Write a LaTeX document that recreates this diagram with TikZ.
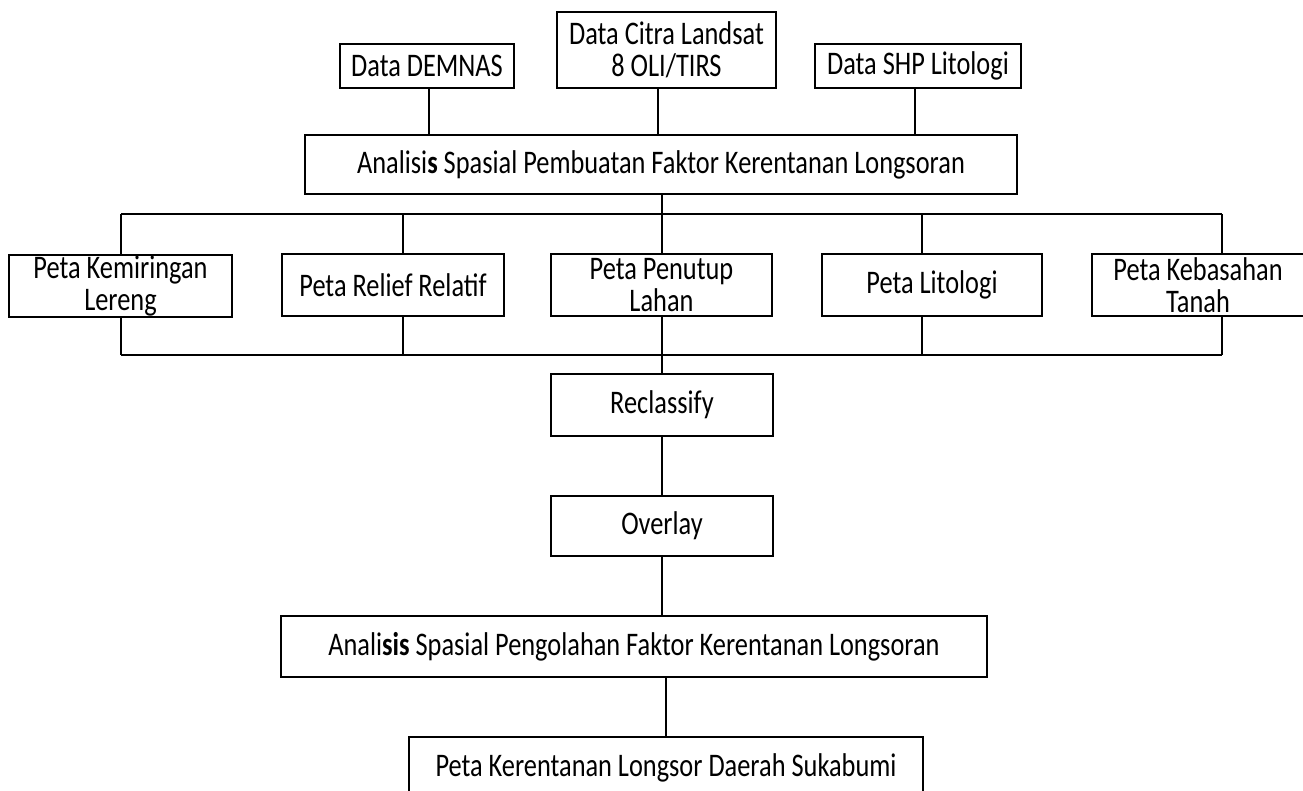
\documentclass[tikz,border=0pt]{standalone}
\usepackage{fontspec}
\setmainfont{Carlito}
\usepackage{graphicx}
\usepackage{tikz}
\usetikzlibrary{positioning,calc}

\newcommand{\tinggi}[1]{\scalebox{1}[1.25]{#1}}

\tikzset{
  kotak/.style={draw,line width=1.1pt,inner sep=0pt,align=center,
    font=\fontsize{15}{18}\selectfont},
  garis/.style={line width=1.1pt}
}

\begin{document}
\begin{tikzpicture}[x=0.02cm, y=-0.02cm]
\useasboundingbox (0,0) rectangle (1303,791);

\node[kotak,minimum width=3.48cm,minimum height=0.88cm] (demnas) at (427,66) {\tinggi{Data DEMNAS}};
\node[kotak,minimum width=4.38cm,minimum height=1.52cm] (citra) at (666.5,50) {\tinggi{Data Citra Landsat}\\\tinggi{8 OLI/TIRS}};
\node[kotak,minimum width=4.12cm,minimum height=0.88cm] (shp) at (918,66) {\tinggi{Data SHP Litologi}};
\node[kotak,minimum width=14.24cm,minimum height=1.18cm] (buat) at (661,164.5)
  {\tinggi{Analisi\textbf{s} Spasial Pembuatan Faktor Kerentanan Longsoran}};

\node[kotak,minimum width=4.46cm,minimum height=1.24cm] (lereng) at (120.5,286) {\tinggi{Peta Kemiringan}\\\tinggi{Lereng}};
\node[kotak,minimum width=4.44cm,minimum height=1.24cm] (relief) at (393,285) {\tinggi{Peta Relief Relatif}};
\node[kotak,minimum width=4.42cm,minimum height=1.24cm] (lahan) at (661.5,285) {\tinggi{Peta Penutup}\\\tinggi{Lahan}};
\node[kotak,minimum width=4.40cm,minimum height=1.24cm] (lito) at (932,285) {\tinggi{Peta Litologi}};
\node[kotak,minimum width=4.24cm,minimum height=1.24cm] (basah) at (1198,285) {\tinggi{Peta Kebasahan}\\\tinggi{Tanah}};

\node[kotak,minimum width=4.44cm,minimum height=1.24cm] (reclass) at (662,405) {\tinggi{Reclassify}};
\node[kotak,minimum width=4.44cm,minimum height=1.20cm] (overlay) at (662,526) {\tinggi{Overlay}};
\node[kotak,minimum width=14.12cm,minimum height=1.22cm] (olah) at (634,646.5)
  {\tinggi{Anali\textbf{sis} Spasial Pengolahan Faktor Kerentanan Longsoran}};
\node[kotak,minimum width=10.28cm,minimum height=1.24cm] (hasil) at (666,768)
  {\tinggi{Peta Kerentanan Longsor Daerah Sukabumi}};

\coordinate (atasL) at (121,214);
\coordinate (atasR) at (1222,214);
\coordinate (bawahL) at (121,355);
\coordinate (bawahR) at (1222,355);

\draw[garis] ([xshift=1pt]demnas.south) -- ([xshift=1pt]demnas.south |- buat.north);
\draw[garis] ([xshift=-8.5*0.02cm]citra.south) -- ([xshift=-8.5*0.02cm]citra.south |- buat.north);
\draw[garis] ([xshift=-3*0.02cm]shp.south) -- ([xshift=-3*0.02cm]shp.south |- buat.north);
\draw[garis] (reclass.north |- buat.south) -- (reclass.north |- lahan.north);

\draw[garis] (atasL) -- (atasR);
\draw[garis] (bawahL) -- (bawahR);
\foreach \n/\s in {lereng/0.5, relief/10, lito/-10, basah/24}{
  \draw[garis] ([xshift=\s*0.02cm]\n.north) -- ([xshift=\s*0.02cm]\n.north |- atasL);
  \draw[garis] ([xshift=\s*0.02cm]\n.south) -- ([xshift=\s*0.02cm]\n.south |- bawahL);
}

\draw[garis] (reclass.north |- lahan.south) -- (reclass.north);
\draw[garis] (reclass) -- (overlay);
\draw[garis] (overlay.south) -- (overlay.south |- olah.north);
\draw[garis] (olah.south -| hasil.north) -- (hasil.north);
\end{tikzpicture}
\end{document}
